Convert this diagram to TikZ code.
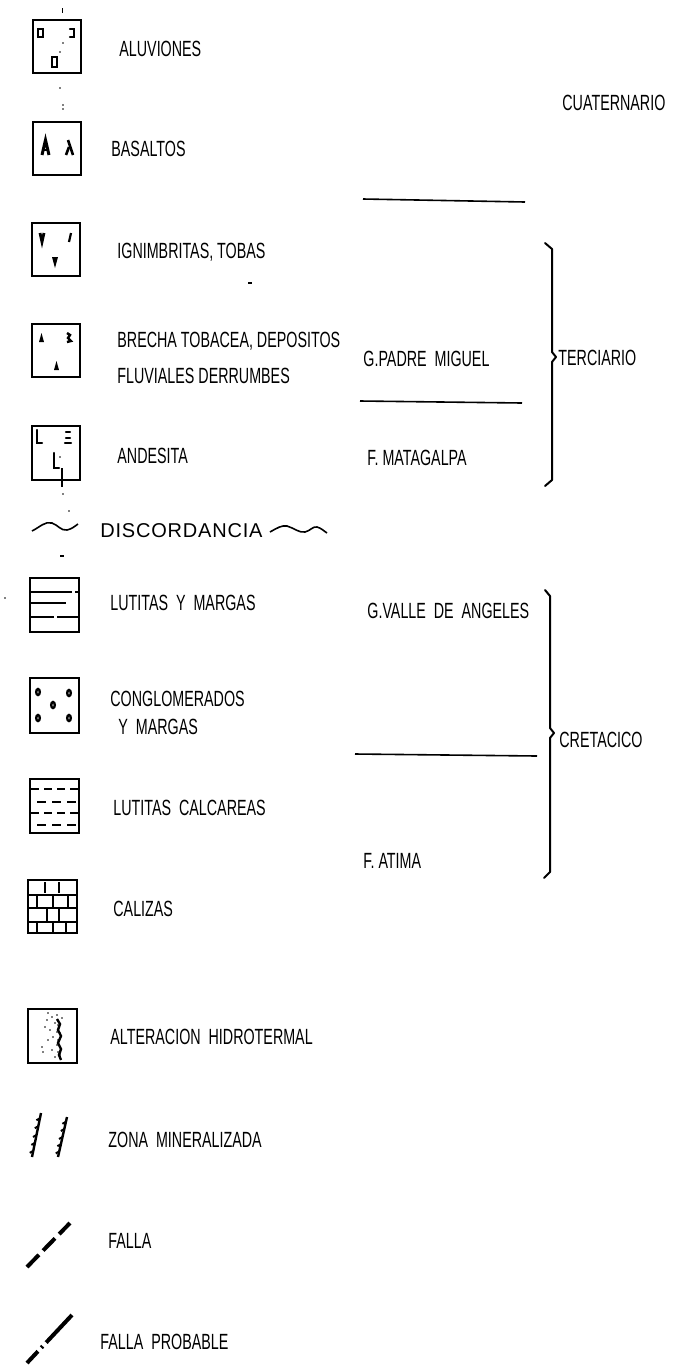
\documentclass[tikz,border=0pt]{standalone}
\usepackage{fontspec}
\setmainfont{Liberation Sans}
\newfontfamily\lblfont[FakeStretch=0.65]{Liberation Sans}
\newfontfamily\discfont[LetterSpace=4]{Liberation Sans}
\usetikzlibrary{calc}
\tikzset{
  boxl/.style={draw, line width=1.2pt},
  symb/.style={line width=1.1pt, line cap=round},
  lbl/.style={font=\lblfont\fontsize{11pt}{13pt}\selectfont, anchor=west, inner sep=0pt, text height=8pt, text depth=0pt},
  disc/.style={font=\discfont\fontsize{10pt}{12pt}\selectfont, anchor=west, inner sep=0pt, text height=7.2pt, text depth=0pt},
  rulel/.style={line width=0.8pt},
  bracel/.style={line width=1pt, line join=round, line cap=round},
  wavel/.style={line width=0.8pt},
  speck/.style={fill=black}
}
\begin{document}
\begin{tikzpicture}[x=0.5pt, y=-0.5pt]
\fill[white] (0,0) rectangle (681,1366);
\useasboundingbox (0,0) rectangle (681,1366);

% ---------- 1 ALUVIONES ----------
\draw[boxl] (33,20) rectangle (81,73);
\draw[symb] (38,29) rectangle (43,37);
\draw[symb] (70,29) -- (74,29) -- (74,37) -- (70,37);
\draw[line width=1.4pt] (52,57) rectangle (57,67);
\fill (63,43) circle (0.8); \fill (60,52) circle (0.8);
\fill[speck] (61.5,8) rectangle (62.5,13);
\fill (60,88) circle (0.8); \fill (63,105) circle (0.8); \fill (63,109) circle (0.8);
\node[lbl] (t1) at (119,48) {ALUVIONES};

% ---------- 2 BASALTOS ----------
\draw[boxl] (33,122) rectangle (81,175);
\draw[line width=1.5pt] (42,155) -- (45.5,140) -- (49,155);
\draw[line width=1pt] (43.5,150) -- (47.5,150);
\draw[line width=1.3pt] (66,155) -- (69,147);
\draw[line width=1.3pt] (68,140) -- (73,155);
\node[lbl] (t2) at (111,148) {BASALTOS};

% ---------- 3 IGNIMBRITAS ----------
\draw[boxl] (32,223) rectangle (80,276);
\draw[line width=1.4pt] (40,233) -- (42,242) -- (44,233);
\draw[line width=1.1pt] (71,233) -- (69,242);
\fill (52,257) -- (58,257) -- (55,268) -- cycle;
\fill[speck] (248,282) rectangle (252,284);
\node[lbl] (t3) at (117,250) {IGNIMBRITAS, TOBAS};

% ---------- 4 BRECHA ----------
\draw[boxl] (32,324) rectangle (80,377);
\fill (39,342) -- (41.5,333) -- (44,342) -- cycle;
\draw[line width=1.2pt] (67,333) -- (70,335) -- (68,338) -- (71,341) -- (67,342);
\fill (54,370) -- (56.5,361) -- (59,370) -- cycle;
\node[lbl] (t4a) at (117,339) {BRECHA TOBACEA, DEPOSITOS};
\node[lbl] (t4b) at (117,375) {FLUVIALES DERRUMBES};

% ---------- 5 ANDESITA ----------
\draw[boxl] (32,426) rectangle (80,480);
\draw[symb] (37,430) -- (37,443) -- (42,443);
\draw[symb] (66,432) -- (70,432); \draw[symb] (66,438) -- (70,438); \draw[symb] (65,443) -- (71,443);
\draw[symb] (54,453) -- (54,468) -- (59,468);
\fill (60,457) circle (0.8);
\draw[line width=1pt] (62,468) -- (62,487);
\fill (63,494) circle (0.8); \fill (69,511) circle (0.8);
\node[lbl] (t5) at (117,455) {ANDESITA};

% ---------- DISCORDANCIA ----------
\draw[wavel] (32,531) .. controls (40,527) and (45,521) .. (52,523)
  .. controls (58,525) and (61,531) .. (67,530)
  .. controls (72,529) and (75,526) .. (78,524);
\node[disc] (disc) at (100,530) {DISCORDANCIA};
\draw[wavel] (270,532) .. controls (277,528) and (282,525) .. (287,526)
  .. controls (294,528) and (299,533) .. (305,532)
  .. controls (310,531) and (313,526) .. (317,527)
  .. controls (321,528) and (324,531) .. (327,533);
\fill[speck] (60,555) rectangle (64,556.5);
\fill (5,598) circle (0.8);

% ---------- 7 LUTITAS Y MARGAS ----------
\draw[boxl] (30,578) rectangle (79,632);
\draw[rulel] (30,592) -- (72,592); \draw[rulel] (75,592) -- (79,592);
\draw[rulel] (30,603) -- (66,603);
\draw[rulel] (30,617) -- (54,617); \draw[rulel] (57,617) -- (79,617);
\node[lbl] (t7) at (110,602) {LUTITAS \ Y \ MARGAS};

% ---------- 8 CONGLOMERADOS ----------
\draw[boxl] (30,678) rectangle (79,733);
\foreach \p in {(38,692),(69,693),(53,705),(38,718),(69,718)}
  \draw[line width=1.2pt] \p ellipse (1.8 and 3);
\node[lbl] (t8a) at (110,698) {CONGLOMERADOS};
\node[lbl] (t8b) at (118,726) {Y \ MARGAS};

% ---------- 9 LUTITAS CALCAREAS ----------
\draw[boxl] (30,779) rectangle (79,833);
\draw[rulel, dash pattern=on 4pt off 2.5pt] (31,789) -- (78,789);
\draw[rulel, dash pattern=on 4.5pt off 3pt] (37,802) -- (78,802);
\draw[rulel, dash pattern=on 4pt off 2.5pt] (31,813) -- (78,813);
\draw[rulel, dash pattern=on 4.5pt off 3pt] (37,825) -- (78,825);
\node[lbl] (t9) at (113,807) {LUTITAS \ CALCAREAS};

% ---------- 10 CALIZAS ----------
\draw[boxl] (28,880) rectangle (77,933);
\draw[rulel] (28,895) -- (77,895);
\draw[rulel] (28,908) -- (77,908);
\draw[rulel] (28,922) -- (77,922);
\foreach \x in {45,59} \draw[line width=1pt] (\x,882) -- (\x,893);
\foreach \x in {37,53,68} \draw[line width=1pt] (\x,896) -- (\x,907);
\foreach \x in {47,59} \draw[line width=1pt] (\x,909) -- (\x,921);
\foreach \x in {37,53,66} \draw[line width=1pt] (\x,923) -- (\x,932);
\node[lbl] (t10) at (113,908) {CALIZAS};

% ---------- 11 ALTERACION HIDROTERMAL ----------
\draw[boxl] (28,1009) rectangle (77,1063);
\foreach \p in {(48,1013),(52,1017),(57,1015),(47,1020),(55,1023),(58,1025),(50,1030),(57,1032),(60,1033),(53,1037),(48,1040),(58,1040),(57,1045),(52,1050),(58,1052),(60,1055),(55,1057),(42,1047),(43,1052),(45,1027),(62,1018)}
  \fill \p circle (0.9);
\draw[line width=1.2pt] (57,1019) -- (60,1024) -- (58,1030) -- (61,1036) -- (58,1043) -- (61,1049) -- (59,1055) -- (61,1060);
\node[lbl] (t11) at (110,1036) {ALTERACION \ HIDROTERMAL};

% ---------- 12 ZONA MINERALIZADA ----------
\coordinate (z1a) at (41,1113); \coordinate (z1b) at (32,1157);
\coordinate (z2a) at (67,1117); \coordinate (z2b) at (58,1157);
\draw[line width=1.2pt] (z1a) -- (z1b);
\draw[line width=1.2pt] (z2a) -- (z2b);
\foreach \t in {0.12,0.3,0.5,0.68,0.86} {
  \draw[line width=1pt] ($(z1a)!\t!(z1b)$) -- ++(-3.5,2);
  \draw[line width=1pt] ($(z2a)!\t!(z2b)$) -- ++(-3.5,2);
}
\node[lbl] (t12) at (108,1139) {ZONA \ MINERALIZADA};

% ---------- 13 FALLA ----------
\coordinate (f1a) at (27,1267); \coordinate (f1b) at (70,1223);
\draw[line width=2pt, dash pattern=on 8.5pt off 3pt] (f1a) -- (f1b);
\node[lbl] (t13) at (108,1240) {FALLA};

% ---------- 14 FALLA PROBABLE ----------
\coordinate (f2a) at (27,1363); \coordinate (f2b) at (72,1315);
\draw[line width=2pt, dash pattern=on 8pt off 2.5pt on 1pt off 2.5pt on 22pt] (f2a) -- (f2b);
\node[lbl] (t14) at (100,1341) {FALLA \ PROBABLE};

% ---------- right column ----------
\node[lbl] (cuat) at (562,102) {CUATERNARIO};
\draw[rulel] (363,199) -- (525,202);

\node[lbl] (gpm) at (363,358) {G.PADRE \ MIGUEL};
\draw[rulel] (360,401) -- (522,403);
\node[lbl] (fmat) at (367,457) {F. MATAGALPA};

\draw[bracel] (545,243) -- (552,249) -- (552,352) -- (556,357) -- (552,362) -- (552,480) -- (545,486);
\node[lbl] (terc) at (558,357) {TERCIARIO};

\node[lbl] (gva) at (367,610) {G.VALLE \ DE \ ANGELES};
\draw[rulel] (355,754) -- (537,756);
\node[lbl] (fat) at (363,860) {F. ATIMA};

\draw[bracel] (545,590) -- (550,596) -- (550,728) -- (554,733) -- (550,738) -- (550,872) -- (544,878);
\node[lbl] (cret) at (559,739) {CRETACICO};
\end{tikzpicture}
\end{document}
